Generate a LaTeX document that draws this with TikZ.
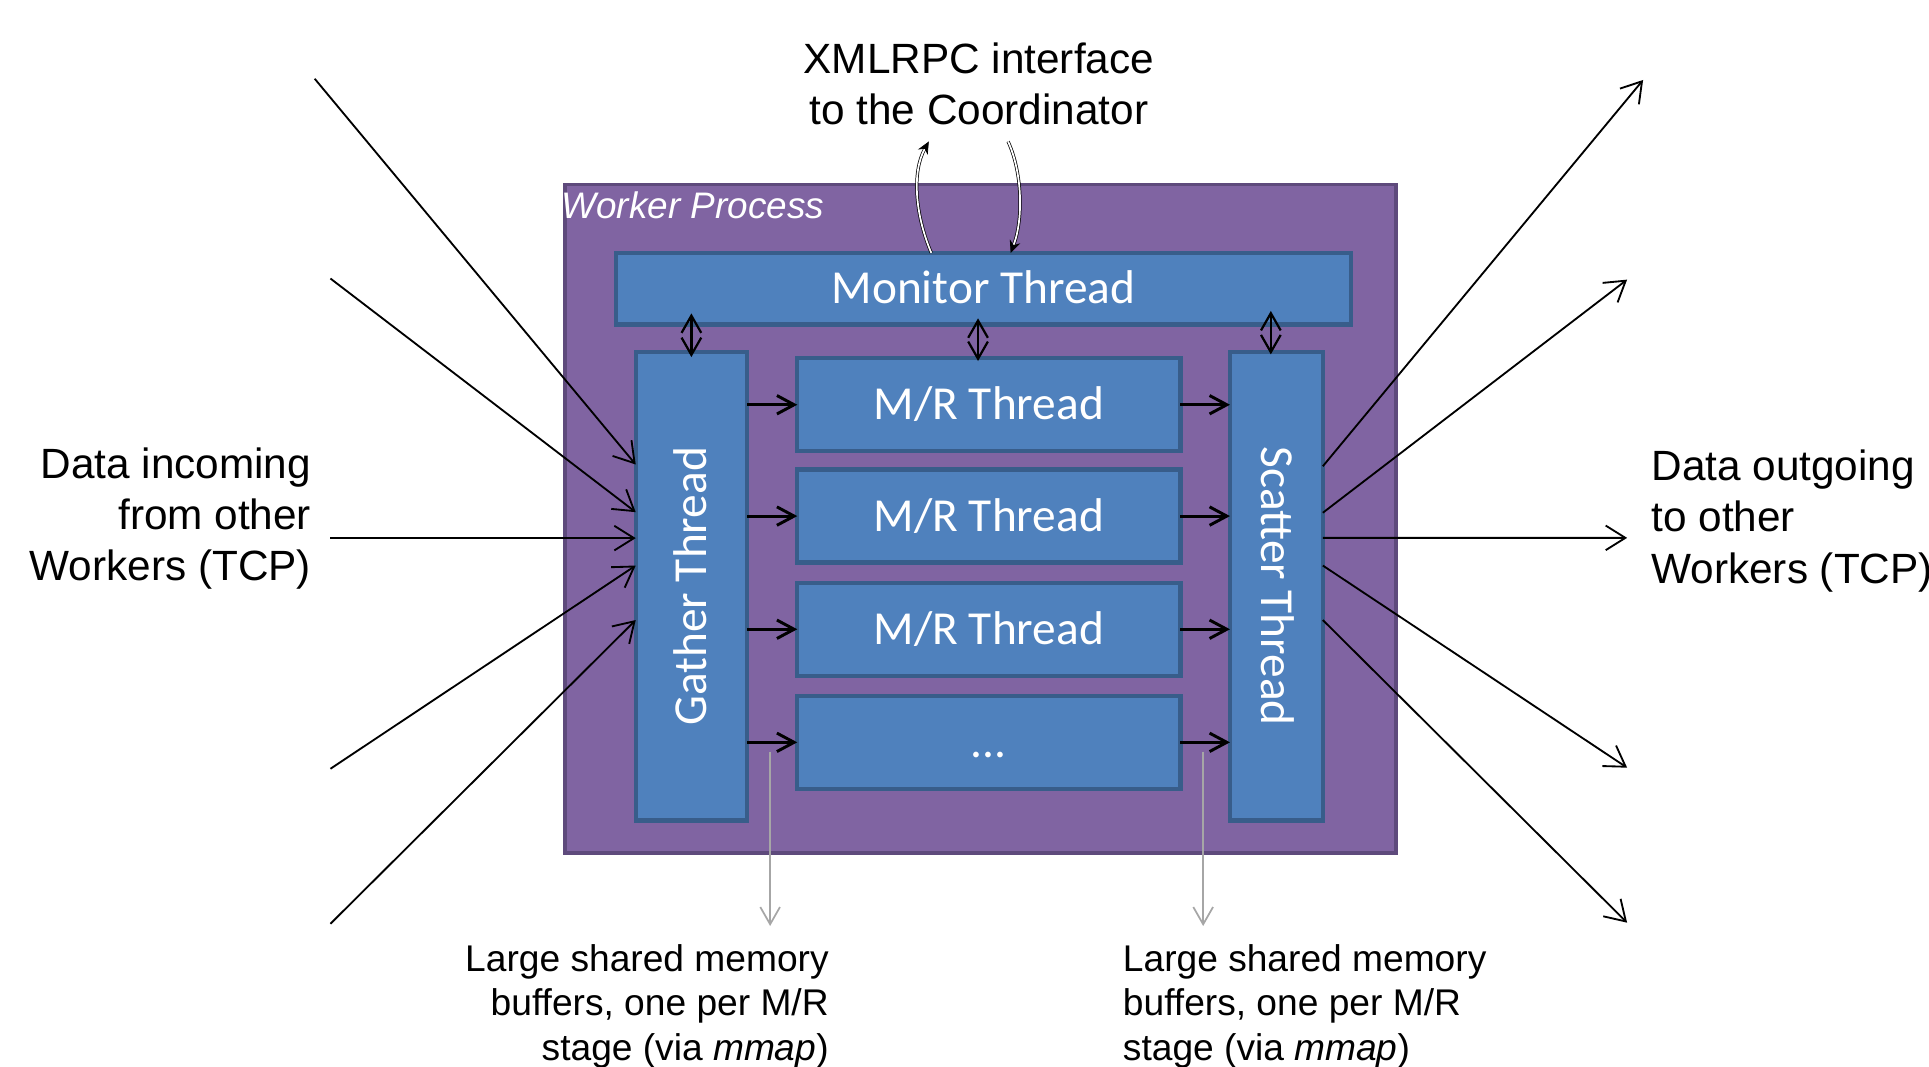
\documentclass[tikz,border=0pt]{standalone}
\usepackage{fontspec}
\setmainfont{Liberation Sans}
\newfontfamily\calfont{Carlito}
\usetikzlibrary{arrows.meta,calc}
\definecolor{wpfill}{HTML}{8064A2}
\definecolor{wpdraw}{HTML}{5E4A7C}
\definecolor{thfill}{HTML}{4F81BD}
\definecolor{thdraw}{HTML}{385D8A}
\definecolor{memgray}{HTML}{A6A6A6}
\begin{document}
\begin{tikzpicture}[x=0.5pt,y=-0.5pt,
  outerbox/.style={draw=wpdraw, fill=wpfill, line width=1.5pt, inner sep=0pt, outer sep=0pt,
    minimum width=337.75pt, minimum height=271.75pt},
  thbox/.style={draw=thdraw, fill=thfill, line width=1.75pt, inner sep=0pt, outer sep=0pt,
    text=white, font=\calfont\fontsize{19.25pt}{23pt}\selectfont, text height=12.3pt, text depth=0pt},
  mrbox/.style={thbox, minimum width=155.75pt, minimum height=37.75pt},
  vtext/.style={text=white, font=\calfont\fontsize{19.25pt}{23pt}\selectfont, text height=12.3pt, text depth=0pt, inner sep=0pt},
  bigtext/.style={font=\fontsize{17.2pt}{20.75pt}\selectfont, inner sep=0pt},
  memtext/.style={font=\fontsize{15.1pt}{18pt}\selectfont, inner sep=0pt},
  netarrow/.style={line width=0.75pt, -{Straight Barb[length=8pt,width=10pt]}},
  flowarrow/.style={line width=1.2pt, -{Straight Barb[length=7pt,width=7.5pt]}},
  dblarrow/.style={line width=0.9pt, {Straight Barb[length=7pt,width=8pt]}-{Straight Barb[length=7pt,width=8pt]}},
  rpcarrow/.style={line width=0.3pt, double=white, double distance=0.7pt, -{Stealth[length=5pt,width=4.5pt]}},
  memarrow/.style={draw=memgray, line width=0.7pt, -{Straight Barb[length=7pt,width=8pt]}}
]
\useasboundingbox (0,0) rectangle (1568,867);

% outer process box
\node[outerbox] (wp) at (797.25,421.75) {};
\node[anchor=base west, text=white, font=\itshape\fontsize{15pt}{18pt}\selectfont, inner sep=0pt] (lblwp) at (456,177.4) {Worker Process};

% threads
\node[thbox, minimum width=298.75pt, minimum height=29.1pt] (monitor) at (799.5,234.65) {Monitor Thread};
\node[thbox, minimum width=45.25pt, minimum height=190.35pt,
  label={[vtext, rotate=90]center:Gather Thread}] (gather) at (562,476.6) {};
\node[thbox, minimum width=37.75pt, minimum height=190.35pt,
  label={[vtext, rotate=-90]center:Scatter Thread}] (scatter) at (1037.5,476.6) {};
\node[mrbox] (mr1) at (803.8,329) {M/R Thread};
\node[mrbox] (mr2) at (803.8,419.5) {M/R Thread};
\node[mrbox] (mr3) at (803.8,511.5) {M/R Thread};
\node[mrbox] (mr4) at (803.8,603.4) {...};

% gather -> M/R -> scatter
\foreach \m in {mr1,mr2,mr3,mr4}{
  \draw[flowarrow] (\m.west -| gather.east) -- (\m.west);
  \draw[flowarrow] (\m.east) -- (\m.east -| scatter.west);
}

% monitor <-> threads
\draw[dblarrow, shorten <=-4.5pt, shorten >=-2pt] (monitor.south -| gather.north) -- (gather.north);
\draw[dblarrow, shorten <=-2.5pt, shorten >=-1.1pt] ([xshift=-4.4pt]monitor.south -| mr1.north) -- ([xshift=-4.4pt]mr1.north);
\draw[dblarrow, shorten <=-5.5pt, shorten >=-0.9pt] ([xshift=-2.25pt]monitor.south -| scatter.north) -- ([xshift=-2.25pt]scatter.north);

% XMLRPC interface
\node[bigtext, align=center] (lblxml) at (795.7,67.8) {XMLRPC interface\\to the Coordinator};
\coordinate (rpcup) at (755,115);
\coordinate (rpcdown) at (819.4,115);
\draw[rpcarrow] ([xshift=-21.25pt]monitor.north) .. controls (744,175) and (741,140) .. (rpcup);
\draw[rpcarrow] (rpcdown) .. controls (831,140) and (832,178) .. ([xshift=11pt]monitor.north);

% incoming data
\node[bigtext, anchor=east, align=right] (lblin) at (253.3,421.4) {Data incoming\\from other\\Workers (TCP)};
\coordinate (in1) at (255.8,64);
\coordinate (in2) at (268.6,226.4);
\coordinate (in3) at (268.6,437.4);
\coordinate (in4) at (268.6,624.9);
\coordinate (in5) at (268.6,750.9);
\draw[netarrow] (in1) -- ([yshift=49.5pt]gather.west);
\draw[netarrow] (in2) -- ([yshift=30.15pt]gather.west);
\draw[netarrow] (in3) -- ([yshift=19.6pt]gather.west);
\draw[netarrow] (in4) -- ([yshift=8.45pt]gather.west);
\draw[netarrow] (in5) -- ([yshift=-13.7pt]gather.west);

% outgoing data
\node[bigtext, anchor=west, align=left] (lblout) at (1342,423.5) {Data outgoing\\to other\\Workers (TCP)};
\coordinate (out1) at (1335.6,65);
\coordinate (out2) at (1322.6,227.3);
\coordinate (out3) at (1322.6,437.2);
\coordinate (out4) at (1322.6,624);
\coordinate (out5) at (1322.6,750);
\draw[netarrow] ([yshift=48.8pt]scatter.east) -- (out1);
\draw[netarrow] ([yshift=29.9pt]scatter.east) -- (out2);
\draw[netarrow] ([yshift=19.7pt]scatter.east) -- (out3);
\draw[netarrow] ([yshift=8.45pt]scatter.east) -- (out4);
\draw[netarrow] ([yshift=-13.7pt]scatter.east) -- (out5);

% shared memory buffers
\coordinate (m1s) at (626,611);
\coordinate (m1e) at (626,752.7);
\coordinate (m2s) at (978,611);
\coordinate (m2e) at (978,752.7);
\draw[memarrow] (m1s) -- (m1e);
\draw[memarrow] (m2s) -- (m2e);
\node[memtext, anchor=east, align=right] (lblmem1) at (674,818) {Large shared memory\\buffers, one per M/R\\stage (via \textit{mmap})};
\node[memtext, anchor=west, align=left] (lblmem2) at (912.4,818) {Large shared memory\\buffers, one per M/R\\stage (via \textit{mmap})};
\end{tikzpicture}
\end{document}
